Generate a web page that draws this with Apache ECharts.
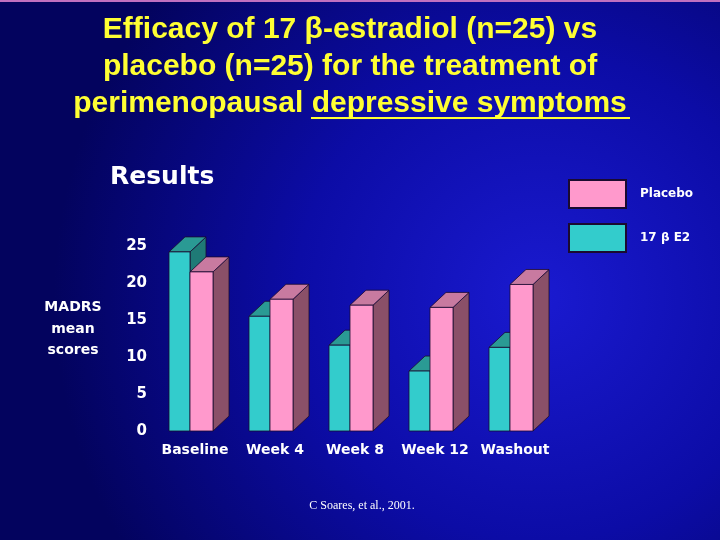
<!DOCTYPE html>
<html><head><meta charset="utf-8">
<script src="https://cdn.jsdelivr.net/npm/echarts@6/dist/echarts.min.js"></script>
<style>html,body{margin:0;padding:0;background:#000070}#c{width:720px;height:540px}</style>
</head><body><div id="c"></div>
<script>
var categories = ['Baseline', 'Week 4', 'Week 8', 'Week 12', 'Washout'];
var e2Values = [24.2, 15.5, 11.6, 8.1, 11.3];
var placeboValues = [21.5, 17.8, 17.0, 16.7, 19.8];
var yTicks = [0, 5, 10, 15, 20, 25];

function makeRender(left, cols) {
  return function (params, api) {
    var idx = api.value(0), v = api.value(1);
    var base = api.coord([idx, 0]);
    var tp = api.coord([idx, v]);
    var unit = api.size([1, 0])[0] / 80;
    var x0 = base[0] + (left ? -22 : -1) * unit;
    var x1 = base[0] + (left ? -1 : 22) * unit;
    var yb = base[1], yt = tp[1];
    var dx = 16 * unit, dy = 15;
    var st = {stroke: '#1a0a30', lineWidth: 0.8};
    return {type: 'group', children: [
      {type: 'polygon', shape: {points: [[x1, yt], [x1 + dx, yt - dy], [x1 + dx, yb - dy], [x1, yb]]},
        style: Object.assign({fill: cols[2]}, st)},
      {type: 'polygon', shape: {points: [[x0, yt], [x1, yt], [x1 + dx, yt - dy], [x0 + dx, yt - dy]]},
        style: Object.assign({fill: cols[1]}, st)},
      {type: 'rect', shape: {x: x0, y: yt, width: x1 - x0, height: yb - yt},
        style: Object.assign({fill: cols[0]}, st)}
    ]};
  };
}

var chart = echarts.init(document.getElementById('c'));
chart.setOption({
  backgroundColor: {
    type: 'radial', x: 0.75, y: 0.55, r: 0.9,
    colorStops: [{offset: 0, color: '#1a1ad0'}, {offset: 0.5, color: '#0c0ca6'}, {offset: 1, color: '#03035e'}]
  },
  animation: false,
  grid: {left: 151, right: 169, top: 246, bottom: 109},
  xAxis: {
    type: 'category', data: categories,
    axisLine: {show: false}, axisTick: {show: false},
    axisLabel: {interval: 0, color: '#ffffff', fontFamily: 'DejaVu Sans', fontWeight: 'bold', fontSize: 14, margin: 12, padding: [0, 0, 0, 8]}
  },
  yAxis: {
    type: 'value', min: yTicks[0], max: yTicks[yTicks.length - 1], interval: 5,
    axisLine: {show: false}, axisTick: {show: false}, splitLine: {show: false},
    axisLabel: {color: '#ffffff', fontFamily: 'DejaVu Sans', fontWeight: 'bold', fontSize: 15, margin: 4}
  },
  legend: {
    orient: 'vertical', left: 568, top: 179, padding: 0, itemWidth: 57, itemHeight: 28, itemGap: 14,
    icon: 'rect', data: ['Placebo', '17 β E2'],
    textStyle: {color: '#ffffff', fontFamily: 'DejaVu Sans', fontWeight: 'bold', fontSize: 12, padding: [0, 0, 0, 9]}
  },
  series: [
    {name: '17 β E2', type: 'custom', itemStyle: {color: '#33cccc', borderColor: '#1a0a30', borderWidth: 1},
      renderItem: makeRender(true, ['#33cccc', '#2a9a94', '#1f7a76']),
      data: e2Values.map(function (v, i) { return [i, v]; })},
    {name: 'Placebo', type: 'custom', itemStyle: {color: '#ff99cc', borderColor: '#1a0a30', borderWidth: 1},
      renderItem: makeRender(false, ['#ff99cc', '#c87aa0', '#8a5068']),
      data: placeboValues.map(function (v, i) { return [i, v]; })}
  ],
  graphic: [
    {type: 'rect', shape: {x: 0, y: 0, width: 720, height: 2}, style: {fill: '#c070c0'}},
    {type: 'text', x: 350, y: 11, style: {
      text: 'Efficacy of 17 β-estradiol (n=25) vs\nplacebo (n=25) for the treatment of\nperimenopausal depressive symptoms',
      fill: '#ffff33', font: 'bold 30px "Liberation Sans"', lineHeight: 37, align: 'center',
      shadowColor: 'rgba(0,0,0,0.8)', shadowOffsetX: 2, shadowOffsetY: 2, shadowBlur: 1}},
    {type: 'line', shape: {x1: 311, y1: 118, x2: 630, y2: 118}, style: {stroke: '#ffff33', lineWidth: 2}},
    {type: 'text', x: 110, y: 165, style: {
      text: 'Results', fill: '#ffffff', font: 'bold 25px "DejaVu Sans"',
      shadowColor: '#000000', shadowBlur: 2, shadowOffsetX: 2, shadowOffsetY: 2}},
    {type: 'text', x: 73, y: 297, style: {
      text: 'MADRS\nmean\nscores', fill: '#ffffff', font: 'bold 14px "DejaVu Sans"', lineHeight: 21.5, align: 'center'}},
    {type: 'text', x: 362, y: 500, style: {
      text: 'C Soares, et al., 2001.', fill: '#ffffff', font: '12px "Liberation Serif"', align: 'center'}}
  ]
});
</script></body></html>
